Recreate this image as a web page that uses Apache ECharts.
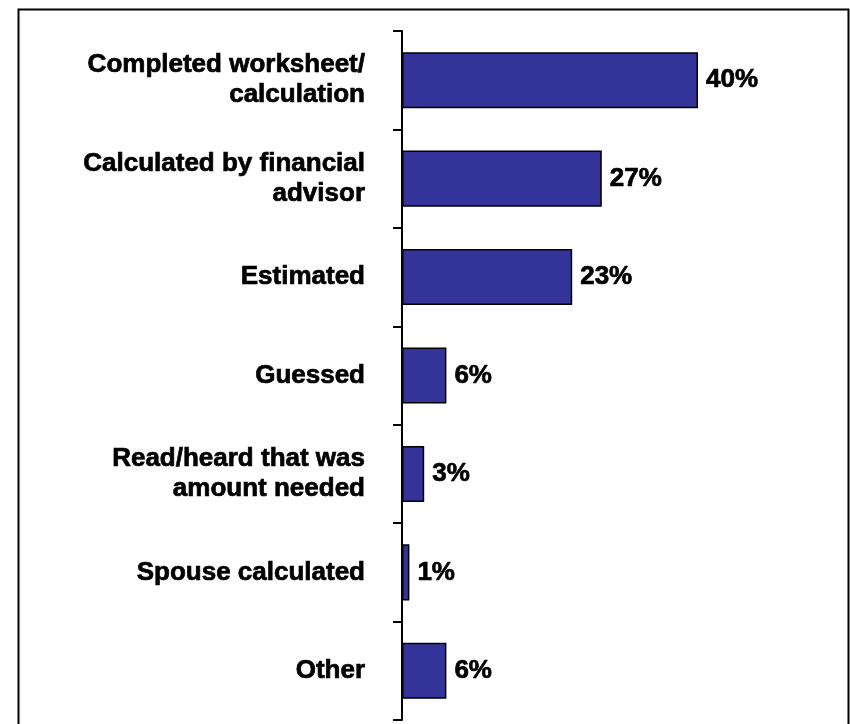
<!DOCTYPE html>
<html>
<head>
<meta charset="utf-8">
<script src="https://cdn.jsdelivr.net/npm/echarts@6/dist/echarts.min.js"></script>
<style>
  html, body { margin: 0; padding: 0; background: #fff; }
  #chart { width: 850px; height: 724px; }
</style>
</head>
<body>
<div id="chart"></div>
<script>
// How the savings goal amount was determined (% of respondents)
const categories = [
  'Completed worksheet/\ncalculation',
  'Calculated by financial\nadvisor',
  'Estimated',
  'Guessed',
  'Read/heard that was\namount needed',
  'Spouse calculated',
  'Other'
];
const shares = [40, 27, 23, 6, 3, 1, 6];

const FONT = 'Arial, "Liberation Sans", sans-serif';

const chart = echarts.init(document.getElementById('chart'), null, { renderer: 'canvas' });
chart.setOption({
  backgroundColor: '#ffffff',
  animation: false,
  graphic: [{
    type: 'rect',
    silent: true,
    shape: { x: 18.5, y: 9.5, width: 830, height: 740 },
    style: { fill: 'none', stroke: '#000', lineWidth: 2 }
  }],
  grid: { left: 402, top: 31, width: 444, height: 689 },
  xAxis: {
    type: 'value',
    min: 0,
    max: 60,
    show: false
  },
  yAxis: {
    type: 'category',
    inverse: true,
    data: categories,
    axisLine: { show: true, lineStyle: { color: '#000', width: 2 } },
    axisTick: { show: true, length: 9, lineStyle: { color: '#000', width: 2 } },
    axisLabel: {
      margin: 37,
      color: '#000',
      fontFamily: FONT,
      fontWeight: 'bold',
      fontSize: 26,
      lineHeight: 30,
      align: 'right',
      textBorderColor: '#000',
      textBorderWidth: 0.7
    },
    splitLine: { show: false }
  },
  series: [{
    type: 'bar',
    data: shares,
    barWidth: '57%',
    itemStyle: { color: '#333399', borderColor: '#000', borderWidth: 1.5 },
    label: {
      show: true,
      position: 'right',
      distance: 8,
      formatter: '{c}%',
      color: '#000',
      fontFamily: FONT,
      fontWeight: 'bold',
      fontSize: 26,
      textBorderColor: '#000',
      textBorderWidth: 0.7
    }
  }]
});
</script>
</body>
</html>
